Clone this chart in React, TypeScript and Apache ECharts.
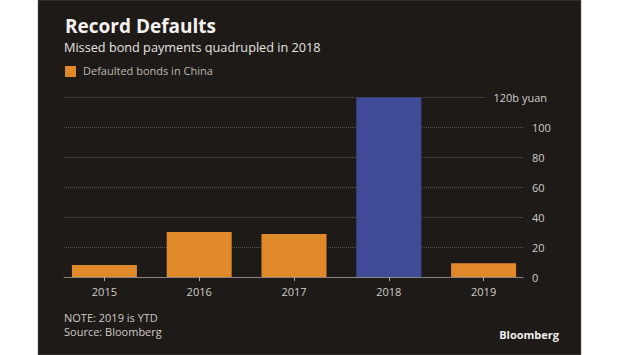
import React, { useEffect, useRef } from "react";
import * as echarts from "echarts";

const years = ["2015", "2016", "2017", "2018", "2019"];
const defaults = [8, 30, 28.7, 119.6, 9.1];
const barColors = ["#E0892B", "#E0892B", "#E0892B", "#3F4A98", "#E0892B"];
const yTicks = [0, 20, 40, 60, 80, 100, 120];
const yMax = 120;
const yStep = 20;

const BG = "#1E1A17";
const FONT = "'Open Sans', 'Noto Sans', sans-serif";

export default function App() {
  const ref = useRef<HTMLDivElement>(null);
  useEffect(() => {
    if (!ref.current) return;
    const chart = echarts.init(ref.current, undefined, { renderer: "svg" });
    chart.setOption({
      animation: false,
      backgroundColor: "#ffffff",
      textStyle: { fontFamily: FONT },
      grid: [
        { left: 64, right: 97, top: 97, bottom: 78 },
        { left: 57, right: 89, top: 97, bottom: 78 },
      ],
      xAxis: [
        {
          gridIndex: 0,
          type: "category",
          data: years,
          axisLine: { show: true, lineStyle: { color: "#8a8580", width: 1 } },
          axisTick: { show: false },
          axisLabel: { show: false },
          splitLine: { show: false },
        },
        {
          gridIndex: 1,
          type: "category",
          data: years,
          axisLine: { show: false },
          axisTick: {
            show: true,
            alignWithLabel: true,
            length: 4,
            lineStyle: { color: "#b0aba6" },
          },
          axisLabel: {
            color: "#d0ccc8",
            fontSize: 11,
            fontFamily: FONT,
            margin: 9,
          },
        },
      ],
      yAxis: [
        {
          gridIndex: 0,
          type: "value",
          position: "right",
          min: 0,
          max: yMax,
          interval: yStep,
          axisLine: { show: false },
          axisTick: { show: false },
          axisLabel: {
            color: "#d0ccc8",
            fontSize: 11,
            fontFamily: FONT,
            margin: 9,
            showMaxLabel: false,
            formatter: (v: number) =>
              yTicks.includes(v) && v !== yMax ? String(v) : "",
          },
          splitLine: {
            show: true,
            lineStyle: { color: "#5a5550", type: [1, 1], width: 1 },
          },
        },
        {
          gridIndex: 1,
          type: "value",
          min: 0,
          max: yMax,
          interval: yStep,
          show: false,
          splitLine: { show: false },
        },
      ],
      series: [
        {
          type: "bar",
          xAxisIndex: 1,
          yAxisIndex: 1,
          barWidth: 65,
          data: defaults.map((v, i) => ({
            value: v,
            itemStyle: { color: barColors[i] },
          })),
          z: 3,
        },
      ],
      graphic: [
        {
          type: "rect",
          shape: { x: 38, y: 0, width: 543, height: 355 },
          style: { fill: BG, stroke: "#6a6a6a", lineWidth: 0.5 },
          z: -10,
          silent: true,
        },
        {
          type: "text",
          x: 65,
          y: 16,
          style: {
            text: "Record Defaults",
            fill: "#f4f2f0",
            font: `bold 19px ${FONT}`,
          },
        },
        {
          type: "text",
          x: 64,
          y: 40,
          style: {
            text: "Missed bond payments quadrupled in 2018",
            fill: "#e6e3e0",
            font: `12.7px ${FONT}`,
          },
        },
        {
          type: "rect",
          shape: { x: 65, y: 66, width: 11, height: 11 },
          style: { fill: "#E0892B" },
        },
        {
          type: "text",
          x: 83,
          y: 65,
          style: {
            text: "Defaulted bonds in China",
            fill: "#bdb8b3",
            font: `11px ${FONT}`,
          },
        },
        {
          type: "text",
          x: 551,
          y: 97,
          z: 20,
          style: {
            text: "120b yuan",
            fill: "#d0ccc8",
            font: `11px ${FONT}`,
            align: "right",
            verticalAlign: "middle",
            backgroundColor: BG,
            padding: [2, 4, 2, 8],
          },
        },
        {
          type: "text",
          x: 64,
          y: 317.5,
          style: {
            text: "NOTE: 2019 is YTD",
            fill: "#cfcac5",
            font: `11px ${FONT}`,
            verticalAlign: "middle",
          },
        },
        {
          type: "text",
          x: 64,
          y: 331,
          style: {
            text: "Source: Bloomberg",
            fill: "#cfcac5",
            font: `11px ${FONT}`,
            verticalAlign: "middle",
          },
        },
        {
          type: "text",
          x: 559,
          y: 334,
          style: {
            text: "Bloomberg",
            fill: "#f0eeec",
            font: `bold 11px ${FONT}`,
            align: "right",
            verticalAlign: "middle",
          },
        },
      ],
    });
    return () => chart.dispose();
  }, []);
  return (
    <div
      ref={ref}
      style={{ position: "fixed", left: 0, top: 0, width: 620, height: 355 }}
    />
  );
}
